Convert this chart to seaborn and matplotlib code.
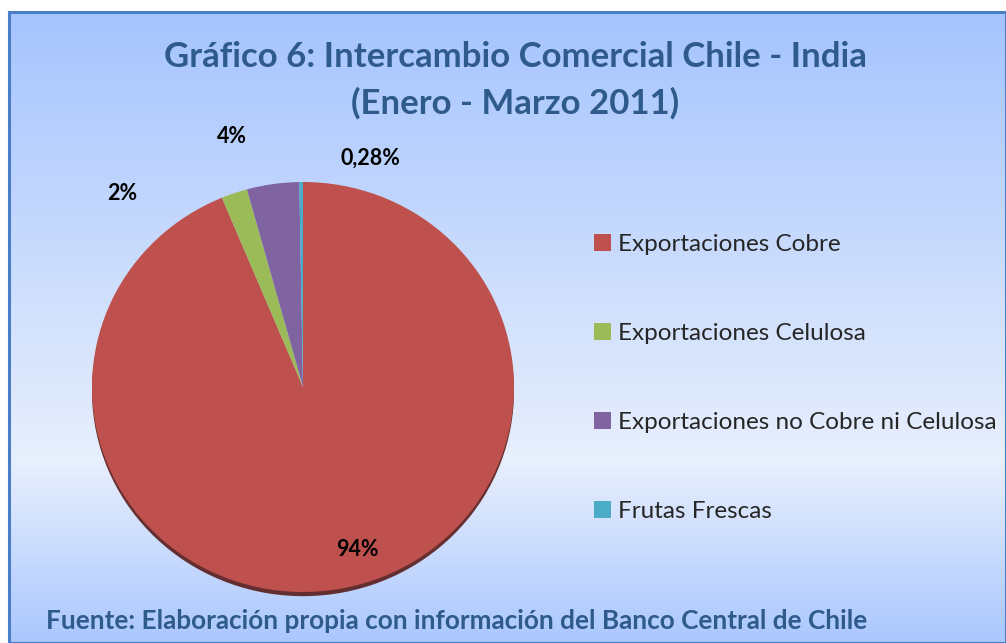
import numpy as np
import matplotlib
matplotlib.use("Agg")
import matplotlib.pyplot as plt
import matplotlib.patheffects as pe
from matplotlib.patches import Patch
import seaborn as sns

# Data
categories = ["Exportaciones Cobre", "Exportaciones Celulosa",
              "Exportaciones no Cobre ni Celulosa", "Frutas Frescas"]
shares = [93.72, 2.0, 4.0, 0.28]
share_labels = ["94%", "2%", "4%", "0,28%"]

colors = ["#BE504D", "#9BBB59", "#8064A2", "#4BACC6"]
label_pos = [(0.256, -0.795), (-0.858, 0.946), (-0.336, 1.22), (0.318, 1.117)]

sns.set_style("white")
plt.rcParams['font.family'] = ['Lato', 'DejaVu Sans']

W, H = 1006, 643
fig = plt.figure(figsize=(W / 100, H / 100), dpi=100)
fig.patch.set_facecolor("white")

# background panel with gradient
bg = fig.add_axes([9 / W, 0, 1 - 9 / W, 1 - 12 / H])
top = np.array([165, 196, 254]) / 255
mid = np.array([232, 239, 252]) / 255
bot = np.array([170, 199, 254]) / 255
n = 631
t = np.linspace(0, 1, n)
grad = np.zeros((n, 1, 3))
k = 0.71
for i, v in enumerate(t):
    if v < k:
        grad[i, 0] = top + (mid - top) * (v / k)
    else:
        grad[i, 0] = mid + (bot - mid) * ((v - k) / (1 - k))
bg.imshow(grad, aspect="auto", extent=[0, 1, 0, 1])
bg.set_xticks([])
bg.set_yticks([])
for s in bg.spines.values():
    s.set_color("#4A7EC6")
    s.set_linewidth(2.2)

# pie
cx, cy, rx, ry = 303, 387, 211, 205
ax = fig.add_axes([(cx - rx) / W, (H - cy - ry) / H, 2 * rx / W, 2 * ry / H])
wedges, _ = ax.pie(shares, colors=colors, startangle=90, counterclock=False,
                   radius=1, wedgeprops=dict(linewidth=0, edgecolor="none"))
# dark rim under the big slice only
wedges[0].set_path_effects([pe.SimplePatchShadow(offset=(0, -3),
                                                 shadow_rgbFace="#5a1c1a",
                                                 alpha=0.9),
                            pe.Normal()])
ax.set_aspect("auto")
ax.set_xlim(-1, 1)
ax.set_ylim(-1, 1)
ax.patch.set_alpha(0)
for (x, y), lab in zip(label_pos, share_labels):
    ax.text(x, y, lab, ha="center", va="center", fontsize=15.5,
            fontweight="bold", color="black", clip_on=False)

# title
title_kw = dict(ha="center", va="center", fontsize=25, fontweight="bold",
                color="#2E5A8C")
fig.text(515 / W, 1 - 57 / H, "Gráfico 6: Intercambio Comercial Chile - India", **title_kw)
fig.text(515 / W, 1 - 103 / H, "(Enero - Marzo 2011)", **title_kw)

# legend
handles = [Patch(facecolor=c, edgecolor="none") for c in colors]
leg = fig.legend(handles, categories, loc="upper left",
                 bbox_to_anchor=(582 / W, 1 - 222 / H), frameon=False,
                 fontsize=17.5, labelspacing=2.8, handlelength=0.7,
                 handleheight=0.7, handletextpad=0.3, borderpad=0)

# source
fig.text(46 / W, 1 - 621 / H,
         "Fuente: Elaboración propia con información del Banco Central de Chile",
         ha="left", va="center", fontsize=18.8, fontweight="bold",
         color="#2E5A8C")

fig.savefig("out.png", dpi=100)
